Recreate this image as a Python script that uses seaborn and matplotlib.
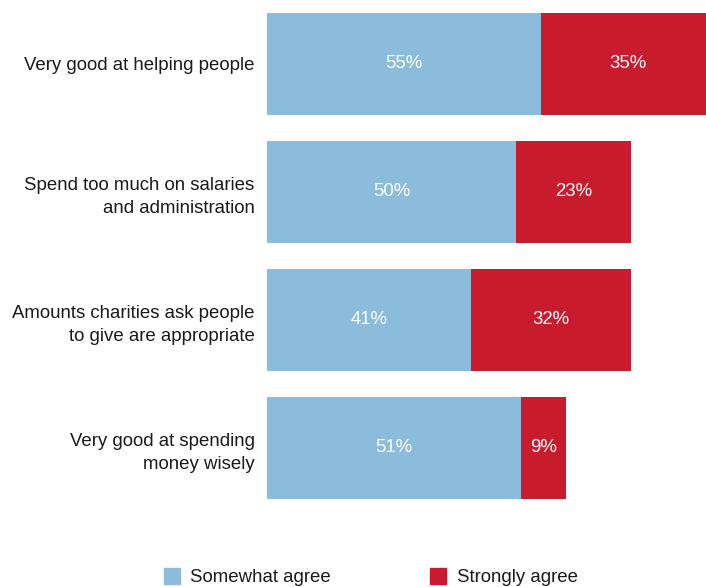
import matplotlib
matplotlib.use("Agg")
import matplotlib.pyplot as plt
from matplotlib.lines import Line2D
import seaborn as sns
import pandas as pd

statements = [
    "Very good at helping people",
    "Spend too much on salaries\nand administration",
    "Amounts charities ask people\nto give are appropriate",
    "Very good at spending\nmoney wisely",
]
somewhat_agree = [55, 50, 41, 51]
strongly_agree = [35, 23, 32, 9]
series_names = ["Somewhat agree", "Strongly agree"]

BLUE = "#8bbcdc"
RED = "#c91b2e"
FS = 13.4

sns.set_theme(style="white")
plt.rcParams["font.family"] = ["Liberation Sans", "DejaVu Sans"]

df = pd.DataFrame({
    "statement": statements,
    "somewhat": somewhat_agree,
    "strongly": strongly_agree,
})
df["total"] = df["somewhat"] + df["strongly"]

fig = plt.figure(figsize=(7.06, 5.87), dpi=100)
ax = fig.add_axes([267 / 706, 75 / 587, 1 - 267 / 706, 512 / 587])

# stacked look: full total in red, the "somewhat" part laid over it in blue
sns.barplot(data=df, x="total", y="statement", orient="h", color=RED,
            saturation=1, width=0.8, linewidth=0, ax=ax)
sns.barplot(data=df, x="somewhat", y="statement", orient="h", color=BLUE,
            saturation=1, width=0.8, linewidth=0, ax=ax)

for i, (s, t) in enumerate(zip(somewhat_agree, strongly_agree)):
    ax.text(s / 2, i, f"{s}%", ha="center", va="center", color="white", fontsize=FS)
    ax.text(s + t / 2, i, f"{t}%", ha="center", va="center", color="white", fontsize=FS)

ax.set_xlim(0, 88.15)
ax.set_ylim(3.5, -0.5)
ax.set_xlabel("")
ax.set_ylabel("")
ax.set_xticks([])
ax.tick_params(axis="y", length=0, pad=9, labelsize=FS, labelcolor="#1a1a1a")
for lbl in ax.get_yticklabels():
    lbl.set_horizontalalignment("right")
    lbl.set_multialignment("right")
    lbl.set_linespacing(1.45)
sns.despine(ax=ax, left=True, bottom=True)

handles = [
    Line2D([], [], marker="s", linestyle="none", markersize=12,
           markerfacecolor=BLUE, markeredgecolor=BLUE),
    Line2D([], [], marker="s", linestyle="none", markersize=12,
           markerfacecolor=RED, markeredgecolor=RED),
]
fig.legend(handles, series_names, loc="center", bbox_to_anchor=(0.525, 0.016),
           ncol=2, frameon=False, fontsize=FS, columnspacing=5.3,
           handletextpad=0.55, handlelength=0.9, labelcolor="#1a1a1a")

fig.savefig("out.png", dpi=100)
